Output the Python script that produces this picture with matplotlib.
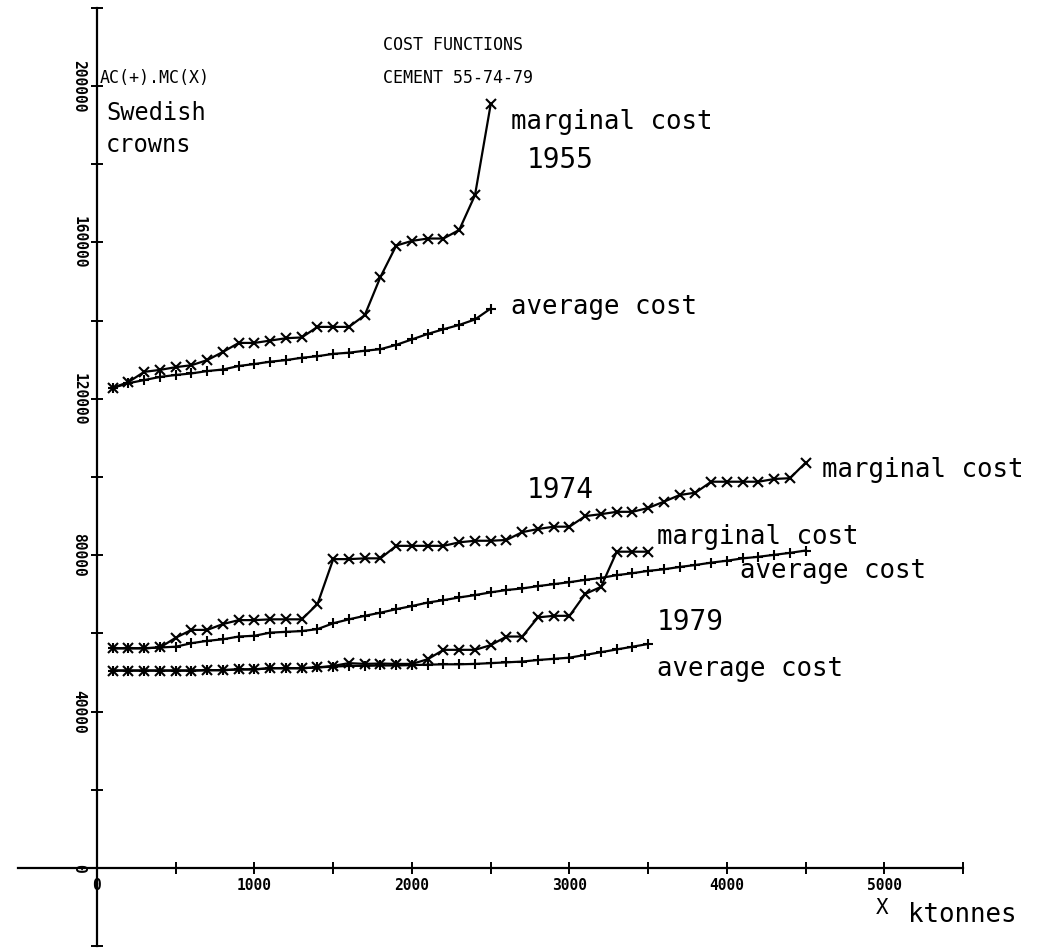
import matplotlib
matplotlib.use('Agg')
import matplotlib.pyplot as plt

# output (ktonnes)
Q55 = [100, 200, 300, 400, 500, 600, 700, 800, 900, 1000, 1100, 1200, 1300, 1400, 1500,
       1600, 1700, 1800, 1900, 2000, 2100, 2200, 2300, 2400, 2500]
Q74 = [100, 200, 300, 400, 500, 600, 700, 800, 900, 1000, 1100, 1200, 1300, 1400, 1500,
       1600, 1700, 1800, 1900, 2000, 2100, 2200, 2300, 2400, 2500, 2600, 2700, 2800, 2900, 3000,
       3100, 3200, 3300, 3400, 3500, 3600, 3700, 3800, 3900, 4000, 4100, 4200, 4300, 4400, 4500]
Q79 = [100, 200, 300, 400, 500, 600, 700, 800, 900, 1000, 1100, 1200, 1300, 1400, 1500,
       1600, 1700, 1800, 1900, 2000, 2100, 2200, 2300, 2400, 2500, 2600, 2700, 2800, 2900, 3000,
       3100, 3200, 3300, 3400, 3500]

# costs (Swedish crowns)
MC55 = [122800, 124300, 126900, 127400, 128100, 128600, 129900, 132000, 134300, 134300,
        134900, 135500, 135700, 138400, 138400, 138400, 141400, 151200, 159200, 160400,
        161000, 161000, 163200, 172100, 195400]
AC55 = [122800, 124000, 124800, 125600, 126100, 126500, 127100, 127500, 128400, 128900,
        129500, 129900, 130500, 130900, 131500, 131800, 132300, 132700, 133800, 135200,
        136600, 137800, 138900, 140300, 143100]
MC74 = [56200, 56200, 56200, 56400, 58900, 60900, 60900, 62400, 63400, 63400,
        63600, 63600, 63600, 67500, 79000, 79000, 79200, 79200, 82400, 82400,
        82400, 82400, 83300, 83700, 83700, 83900, 85900, 86700, 87300, 87300,
        90000, 90500, 91100, 91100, 92100, 93700, 95400, 96000, 98800, 98800,
        98800, 98800, 99500, 99700, 103700]
AC74 = [56200, 56200, 56200, 56400, 56600, 57500, 58100, 58500, 59200, 59400,
        60200, 60400, 60600, 61100, 62600, 63600, 64500, 65300, 66200, 67000,
        67900, 68500, 69200, 69800, 70500, 71100, 71500, 72100, 72600, 73100,
        73700, 74200, 74900, 75400, 76000, 76400, 77000, 77500, 78100, 78600,
        79200, 79600, 80100, 80600, 81200]
MC79 = [50500, 50500, 50500, 50500, 50500, 50500, 50600, 50600, 50800, 50800,
        51100, 51100, 51100, 51300, 51700, 52400, 52200, 52300, 52200, 52200,
        53400, 55800, 55800, 55800, 57000, 59200, 59200, 64100, 64500, 64500,
        70100, 71900, 80900, 80900, 80900]
AC79 = [50500, 50500, 50500, 50500, 50500, 50500, 50600, 50600, 50800, 50800,
        51100, 51100, 51100, 51300, 51500, 51700, 51700, 51800, 51800, 51900,
        52000, 52100, 52100, 52200, 52400, 52600, 52800, 53200, 53500, 53800,
        54500, 55200, 55900, 56600, 57300]

XTICKS = [0, 500, 1000, 1500, 2000, 2500, 3000, 3500, 4000, 4500, 5000, 5500]
XLABS = ['0', '', '1000', '', '2000', '', '3000', '', '4000', '', '5000', '']
YTICKS = [-20000, 0, 20000, 40000, 60000, 80000, 100000, 120000, 140000, 160000,
          180000, 200000, 220000]
YLABS = ['', '0', '', '40000', '', '80000', '', '120000', '', '160000', '', '200000', '']

# label text, x, y, size
LABELS = [('COST FUNCTIONS', 1816, 210500, 12),
          ('CEMENT 55-74-79', 1816, 202000, 12),
          ('AC(+).MC(X)', 19, 202000, 12),
          ('Swedish', 57, 193100, 17),
          ('crowns', 57, 184900, 17),
          ('marginal cost', 2629, 190800, 18.5),
          ('1955', 2730, 181100, 20),
          ('average cost', 2629, 143500, 18.5),
          ('1974', 2730, 96700, 20),
          ('marginal cost', 4603, 101800, 18.5),
          ('marginal cost', 3556, 84700, 18.5),
          ('average cost', 4083, 76000, 18.5),
          ('1979', 3556, 62900, 20),
          ('average cost', 3556, 50900, 18.5),
          ('X', 4946, -10200, 15),
          ('ktonnes', 5149, -12000, 18.5)]


def main():
   plt.rcParams['font.family'] = ['DejaVu Sans Mono', 'DejaVu Sans']
   fig = plt.figure(figsize=(10.5, 9.51), dpi=100)
   ax = fig.add_axes([0.01738, 0.00505, 0.9, 0.9867])
   ax.set_xlim(-500, 5500)
   ax.set_ylim(-20000, 220000)

   for sp in ['top', 'right']:
      ax.spines[sp].set_visible(False)
   ax.spines['left'].set_position(('data', 0))
   ax.spines['bottom'].set_position(('data', 0))
   for sp in ['left', 'bottom']:
      ax.spines[sp].set_linewidth(1.6)

   ax.set_xticks(XTICKS, XLABS)
   ax.set_yticks(YTICKS, YLABS)
   ax.tick_params(direction='inout', length=9, width=1.4, color='black')
   ax.tick_params(axis='x', pad=3)
   ax.tick_params(axis='y', pad=3, labelrotation=-90)
   for lab in ax.get_xticklabels() + ax.get_yticklabels():
      lab.set_fontsize(10.5)
      lab.set_fontweight('bold')
   for lab in ax.get_yticklabels():
      lab.set_va('center')

   lkw = dict(color='black', lw=1.6, markersize=7, markeredgewidth=1.5)
   for q, mc, ac in [(Q55, MC55, AC55), (Q74, MC74, AC74), (Q79, MC79, AC79)]:
      ax.plot(q, ac, marker='+', **lkw)
      ax.plot(q, mc, marker='x', **lkw)

   for txt, x, y, fs in LABELS:
      ax.text(x, y, txt, fontsize=fs, ha='left', va='center', color='black')

   fig.savefig('out.png', dpi=100)
   plt.close(fig)


if __name__ == '__main__':
   main()
